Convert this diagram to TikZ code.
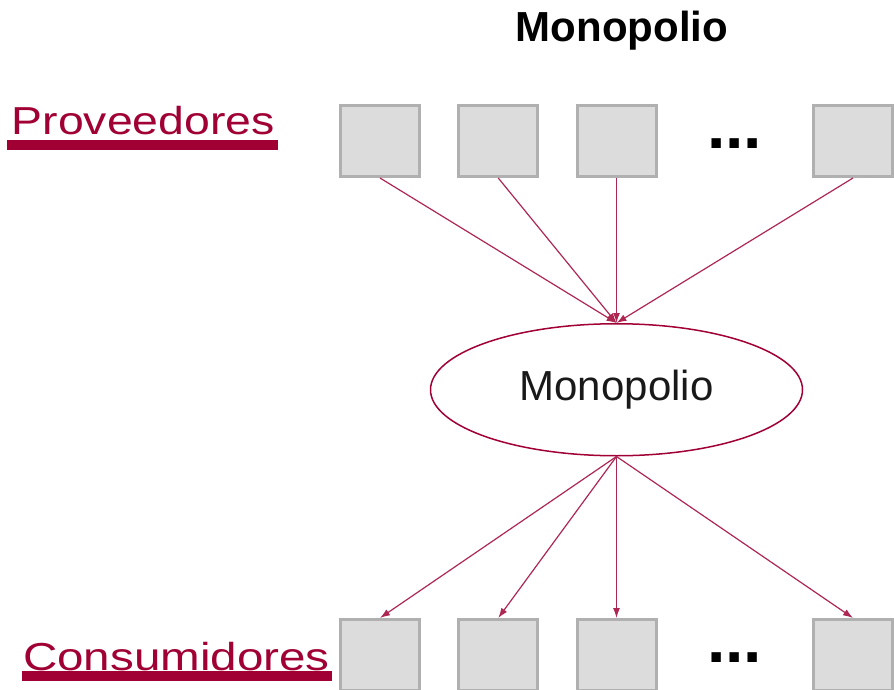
\documentclass[tikz,border=0pt]{standalone}
\usepackage{fontspec}
\setsansfont{Liberation Sans}
\usepackage{graphicx}
\usetikzlibrary{shapes, arrows.meta, matrix, positioning}

\definecolor{wine}{HTML}{A00034}
\definecolor{boxgray}{HTML}{DCDCDC}
\definecolor{edgegray}{HTML}{B0B0B0}

\begin{document}
\begin{tikzpicture}[
			font=\sffamily,
			every matrix/.style={column sep=36.25pt, row sep=440pt, nodes={anchor=center}},
			firm/.style={draw=edgegray, line width=3pt, fill=boxgray, minimum width=79pt, minimum height=71pt, inner sep=0pt},
			more/.style={minimum width=82pt, minimum height=74pt, inner sep=0pt, text height=14pt, text depth=0pt, font=\sffamily\bfseries\fontsize{66}{66}\selectfont},
			market/.style={draw=wine, line width=1.5pt, ellipse, minimum width=372pt, minimum height=132pt, inner sep=0pt, text=black!90, font=\sffamily\fontsize{42}{42}\selectfont},
			side/.style={text=wine, inner sep=0pt, font=\sffamily\fontsize{39}{39}\selectfont},
			bar/.style={draw=wine, line width=10pt},
			to/.style={-{Latex[length=10pt,width=7pt]}, draw=wine!85, line width=1.2pt}
			]
			
			\useasboundingbox (0,0) rectangle (894pt,-690pt);
			
			\node[font=\sffamily\bfseries\fontsize{42}{42}\selectfont, anchor=base] (head) at (622pt,-42pt) {Monopolio};
			
			\matrix (mkt) [matrix of nodes, ampersand replacement=\&, matrix anchor=mkt-1-1.center] at (380pt,-141pt)
			{
				|[firm]| \& |[firm]| \& |[firm]| \& |[more]| ... \& |[firm]| \\
				|[firm]| \& |[firm]| \& |[firm]| \& |[more]| ... \& |[firm]| \\
			};
			
			\node[market, below=145pt of mkt-1-3] (mono) {Monopolio};
			
			\node[side, anchor=base east] (prov) at (275pt,-135pt) {\scalebox{1.19}[1]{Proveedores}};
			\node[side, anchor=base east] (cons) at (330pt,-670pt) {\scalebox{1.22}[1]{Consumidores}};
			\draw[bar] ([xshift=-4pt,yshift=-10pt]prov.base west) -- ([xshift=3pt,yshift=-10pt]prov.base east);
			\draw[bar] ([xshift=-1pt,yshift=-6pt]cons.base west) -- ([xshift=2pt,yshift=-6pt]cons.base east);
			
			\foreach \c in {1,2,3,5} {
				\draw[to] (mkt-1-\c.south) -- (mono.north);
				\draw[to] (mono.south) -- (mkt-2-\c.north);
			}
			
			\end{tikzpicture}
\end{document}
